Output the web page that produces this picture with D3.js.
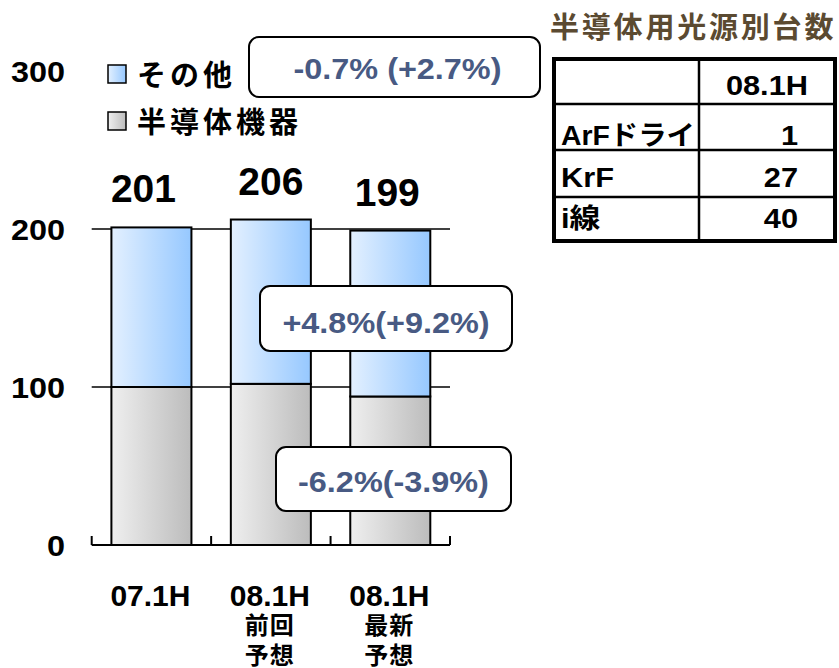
<!DOCTYPE html>
<html>
<head>
<meta charset="utf-8">
<script src="https://cdn.jsdelivr.net/npm/d3@7"></script>
<style>
  body { margin: 0; background: #fff; }
  text { font-family: "Liberation Sans", Arial, "Noto Sans CJK JP", sans-serif; font-weight: bold; }
</style>
</head>
<body>
<div id="chart"></div>
<script>
// data
var categories = ["07.1H", "08.1H前回", "08.1H最新"];
var catLines = [["07.1H"], ["08.1H", "前回", "予想"], ["08.1H", "最新", "予想"]];
var semiValues = [100, 102, 94];
var otherValues = [101, 104, 105];
var totals = [201, 206, 199];
var yTicks = [0, 100, 200, 300];
var seriesNames = ["その他", "半導体機器"];
var callouts = ["-0.7% (+2.7%)", "+4.8%(+9.2%)", "-6.2%(-3.9%)"];
var tableTitle = "半導体用光源別台数";
var tableHeader = "08.1H";
var tableRows = ["ArFドライ", "KrF", "i線"];
var tableValues = [1, 27, 40];

var W = 839, H = 668;

var svg = d3.select("#chart")
    .append("svg")
    .attr("width", W)
    .attr("height", H);

// widen text horizontally around its anchor point
function stretch(sel, k) {
    sel.attr("transform", function () {
        var t = d3.select(this);
        var tx = +t.attr("x"), ty = +t.attr("y");
        return "translate(" + tx + "," + ty + ") scale(" + k + ",1) translate(" + (-tx) + "," + (-ty) + ")";
    });
}

var defs = svg.append("defs");
function grad(id, c0, c1) {
    var g = defs.append("linearGradient").attr("id", id)
        .attr("x1", "0%").attr("x2", "100%").attr("y1", "0%").attr("y2", "0%");
    g.append("stop").attr("offset", "0%").attr("stop-color", c0);
    g.append("stop").attr("offset", "100%").attr("stop-color", c1);
}
grad("gOther", "#e3f0ff", "#96c8ff");
grad("gSemi", "#efefef", "#bcbcbc");

// scales
var x = d3.scaleBand()
    .domain(categories)
    .range([91.7, 450])
    .paddingInner(0.33)
    .paddingOuter(0.165);

var y = d3.scaleLinear()
    .domain([0, 300])
    .range([545, 71]);

// gridlines (100, 200)
svg.append("g")
    .selectAll("line")
    .data(yTicks.filter(function (d) { return d > 0 && d < 300; }))
    .enter()
    .append("line")
    .attr("x1", 91.7).attr("x2", 450)
    .attr("y1", function (d) { return y(d); })
    .attr("y2", function (d) { return y(d); })
    .style("stroke", "#000")
    .style("stroke-width", 1.5);

// y labels
svg.append("g")
    .selectAll("text")
    .data(yTicks)
    .enter()
    .append("text")
    .attr("x", 65)
    .attr("y", function (d) { return y(d) + 11; })
    .attr("text-anchor", "end")
    .attr("font-size", "30px")
    .text(function (d) { return d; })
    .call(stretch, 1.08);

// bars
var bars = svg.append("g");
bars.selectAll(".semi")
    .data(categories)
    .enter()
    .append("rect")
    .attr("x", function (d) { return x(d); })
    .attr("width", x.bandwidth())
    .attr("y", function (d, i) { return y(semiValues[i]); })
    .attr("height", function (d, i) { return y(0) - y(semiValues[i]); })
    .style("fill", "url(#gSemi)")
    .style("stroke", "#000")
    .style("stroke-width", 2);

bars.selectAll(".other")
    .data(categories)
    .enter()
    .append("rect")
    .attr("x", function (d) { return x(d); })
    .attr("width", x.bandwidth())
    .attr("y", function (d, i) { return y(semiValues[i] + otherValues[i]); })
    .attr("height", function (d, i) { return y(semiValues[i]) - y(semiValues[i] + otherValues[i]); })
    .style("fill", "url(#gOther)")
    .style("stroke", "#000")
    .style("stroke-width", 2);

// bottom axis with ticks at category boundaries
var step = x.step();
var x0 = x(categories[0]) - step * x.paddingInner() / 2;
svg.append("line")
    .attr("x1", 91.7).attr("x2", 450)
    .attr("y1", y(0)).attr("y2", y(0))
    .style("stroke", "#000").style("stroke-width", 2);
svg.append("g")
    .selectAll("line")
    .data(d3.range(categories.length + 1))
    .enter()
    .append("line")
    .attr("x1", function (i) { return Math.max(91.7, Math.min(450, x0 + i * step)); })
    .attr("x2", function (i) { return Math.max(91.7, Math.min(450, x0 + i * step)); })
    .attr("y1", y(0)).attr("y2", y(0) - 9)
    .style("stroke", "#000").style("stroke-width", 2);

// totals
var totalShift = [-8, 0, -3];
svg.append("g")
    .selectAll("text")
    .data(categories)
    .enter()
    .append("text")
    .attr("x", function (d, i) { return x(d) + x.bandwidth() / 2 + totalShift[i]; })
    .attr("y", function (d, i) { return y(totals[i]) - 25; })
    .attr("text-anchor", "middle")
    .attr("font-size", "39px")
    .text(function (d, i) { return totals[i]; });

// category labels
var xl = svg.append("g");
var lineY = [606, 634, 664];
categories.forEach(function (c, i) {
    catLines[i].forEach(function (t, j) {
        xl.append("text")
            .attr("x", x(c) + x.bandwidth() / 2 - 1)
            .attr("y", lineY[j])
            .attr("text-anchor", "middle")
            .attr("font-size", j == 0 ? "30px" : "24px")
            .style("letter-spacing", j == 0 ? "0px" : "1px")
            .text(t);
    });
});

// legend
var legend = svg.append("g");
var legendFill = ["url(#gOther)", "url(#gSemi)"];
seriesNames.forEach(function (s, i) {
    legend.append("rect")
        .attr("x", 108).attr("y", 65 + i * 47)
        .attr("width", 18).attr("height", 18)
        .style("fill", legendFill[i])
        .style("stroke", "#000").style("stroke-width", 1.5);
    legend.append("text")
        .attr("x", 137).attr("y", 86 + i * 47)
        .attr("font-size", "29px")
        .style("letter-spacing", "4px")
        .text(s);
});

// callout boxes
var boxes = [
    { x: 249, y: 37, w: 291, h: 60, ty: 79 },
    { x: 260, y: 286, w: 252, h: 65, ty: 333 },
    { x: 276, y: 447, w: 235, h: 64, ty: 492 }
];
var cg = svg.append("g");
boxes.forEach(function (b, i) {
    cg.append("rect")
        .attr("x", b.x).attr("y", b.y)
        .attr("width", b.w).attr("height", b.h)
        .attr("rx", 10).attr("ry", 10)
        .style("fill", "#fff")
        .style("stroke", "#000").style("stroke-width", 2);
    cg.append("text")
        .attr("x", b.x + b.w / 2 + (i == 0 ? 3 : 0))
        .attr("y", b.ty)
        .attr("text-anchor", "middle")
        .attr("font-size", "30px")
        .style("fill", "#485a83")
        .text(callouts[i])
        .call(stretch, 1.08);
});

// table
svg.append("text")
    .attr("x", 550).attr("y", 38)
    .attr("font-size", "29px")
    .style("font-family", "'Noto Sans CJK JP', sans-serif")
    .style("letter-spacing", "2.8px")
    .style("fill", "#5b4a31")
    .text(tableTitle);

var tb = svg.append("g");
var rowLines = [59, 104, 150, 197, 241];
var baselines = [95, 145, 187, 228];
tb.append("rect")
    .attr("x", 554).attr("y", 59)
    .attr("width", 281).attr("height", 182)
    .style("fill", "#fff")
    .style("stroke", "#000").style("stroke-width", 4);
rowLines.slice(1, 4).forEach(function (ry) {
    tb.append("line")
        .attr("x1", 554).attr("x2", 835)
        .attr("y1", ry).attr("y2", ry)
        .style("stroke", "#000").style("stroke-width", 2.5);
});
tb.append("line")
    .attr("x1", 699).attr("x2", 699)
    .attr("y1", 59).attr("y2", 241)
    .style("stroke", "#000").style("stroke-width", 2.5);
tb.append("text")
    .attr("x", 808).attr("y", baselines[0])
    .attr("text-anchor", "end")
    .attr("font-size", "27px")
    .text(tableHeader)
    .call(stretch, 1.14);
tableRows.forEach(function (r, i) {
    var t = tb.append("text")
        .attr("x", 561).attr("y", baselines[i + 1])
        .attr("font-size", "27px")
        .text(r);
    if (i == 0) t.attr("textLength", 134).attr("lengthAdjust", "spacingAndGlyphs");
    else t.call(stretch, 1.14);
    tb.append("text")
        .attr("x", 798).attr("y", baselines[i + 1])
        .attr("text-anchor", "end")
        .attr("font-size", "27px")
        .text(tableValues[i])
        .call(stretch, 1.14);
});
</script>
</body>
</html>
